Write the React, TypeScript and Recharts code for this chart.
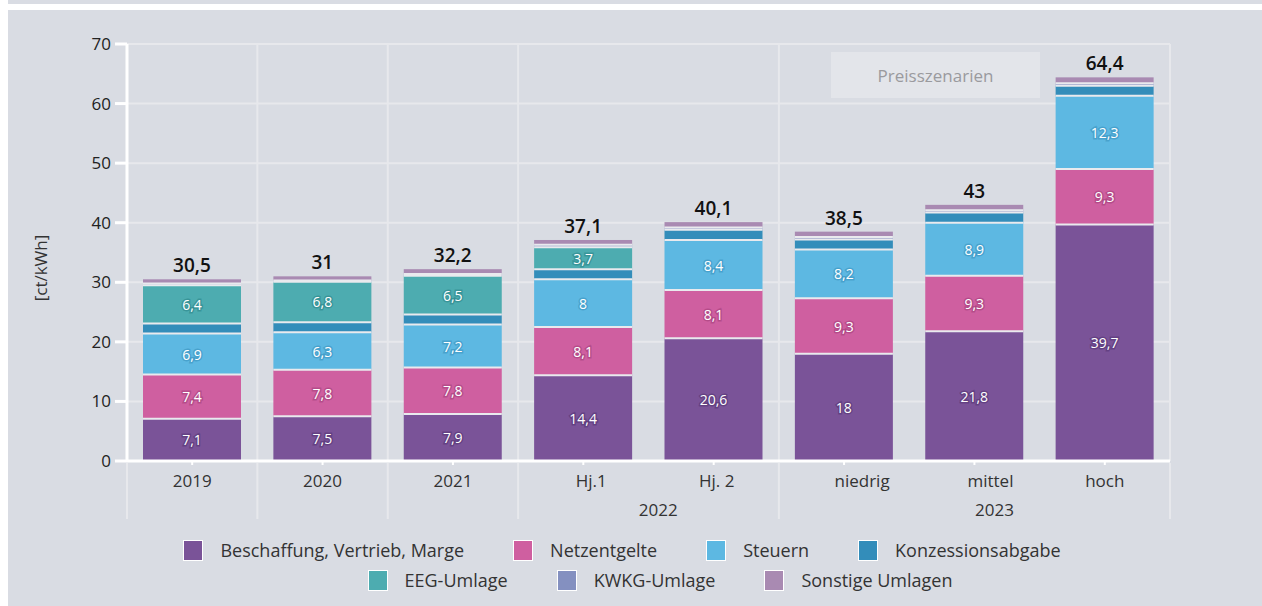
import React from 'react';
import { BarChart, Bar, XAxis, YAxis, CartesianGrid, LabelList, Legend, Label } from 'recharts';

const categories = ['2019', '2020', '2021', 'Hj.1', 'Hj. 2', 'niedrig', 'mittel', 'hoch'];
const beschaffung = [7.1, 7.5, 7.9, 14.4, 20.6, 18, 21.8, 39.7];
const netzentgelte = [7.4, 7.8, 7.8, 8.1, 8.1, 9.3, 9.3, 9.3];
const steuern = [6.9, 6.3, 7.2, 8, 8.4, 8.2, 8.9, 12.3];
const konzession = [1.7, 1.7, 1.7, 1.7, 1.7, 1.7, 1.7, 1.7];
const eegUmlage = [6.4, 6.8, 6.5, 3.7, 0, 0, 0, 0];
const kwkgUmlage = [0.3, 0.2, 0.3, 0.4, 0.4, 0.4, 0.4, 0.4];
const sonstige = [0.7, 0.7, 0.8, 0.8, 0.9, 0.9, 0.9, 1.0];
const totals = [30.5, 31, 32.2, 37.1, 40.1, 38.5, 43, 64.4];
const yTicks = [0, 10, 20, 30, 40, 50, 60, 70];
const yearGroups: Record<number, string> = { 3: '2022', 6: '2023' };

// series in stacking order (bottom -> top)
const series = [
  { key: 'beschaffung', name: 'Beschaffung, Vertrieb, Marge', color: '#7a5398', halo: '#563576', values: beschaffung, label: true },
  { key: 'netz', name: 'Netzentgelte', color: '#cf5fa0', halo: '#a5407c', values: netzentgelte, label: true },
  { key: 'steuern', name: 'Steuern', color: '#5db8e2', halo: '#3a93c0', values: steuern, label: true },
  { key: 'konz', name: 'Konzessionsabgabe', color: '#338dba', halo: '#226f96', values: konzession, label: false },
  { key: 'eeg', name: 'EEG-Umlage', color: '#4dacb0', halo: '#2c868a', values: eegUmlage, label: true },
  { key: 'kwkg', name: 'KWKG-Umlage', color: '#8490c0', halo: '#5d6a9d', values: kwkgUmlage, label: false },
  { key: 'sonstige', name: 'Sonstige Umlagen', color: '#a98ab2', halo: '#7d5f88', values: sonstige, label: false },
];

const data = categories.map((name, i) => {
  const row: Record<string, any> = { name, total: totals[i] };
  series.forEach(s => { row[s.key] = s.values[i]; });
  return row;
});

const W = 1254;
const H = 606;
const MARGIN = { top: 44, right: 92, left: 59, bottom: 85 };
const Y_W = 60;
const PLOT_W = W - MARGIN.left - Y_W - MARGIN.right;
const BAND = PLOT_W / categories.length;
const GRID = '#e7e8ec';
const FONT = '"Open Sans", "Noto Sans", sans-serif';
const LABEL_SHIFT: Record<number, number> = { 3: 8, 4: 3, 5: 18, 6: 16 };
const fmt = (v: number) => String(v).replace('.', ',');

const Segment = (props: any) => {
  const { x, y, width, height, fill } = props;
  if (!height || height <= 0) return null;
  return (
    <g>
      <rect x={x} y={y} width={width} height={height} fill={fill} />
      <line x1={x} x2={x + width} y1={y + height} y2={y + height} stroke="#e9eaee" strokeWidth={2} />
    </g>
  );
};

const makeSegLabel = (halo: string) => (props: any) => {
  const vb = props.viewBox || props;
  const v = Number(props.value);
  if (!v) return null;
  return (
    <text
      x={vb.x + vb.width / 2}
      y={vb.y + vb.height / 2}
      textAnchor="middle"
      dominantBaseline="central"
      fill="#fff"
      stroke={halo}
      strokeWidth={3}
      strokeOpacity={0.6}
      paintOrder="stroke"
      fontSize={14}
      fontWeight={500}
      fontFamily={FONT}
    >
      {fmt(v)}
    </text>
  );
};

const TotalLabel = (props: any) => {
  const vb = props.viewBox || props;
  return (
    <text x={vb.x + vb.width / 2} y={vb.y - 7} textAnchor="middle" fill="#111" fontSize={19} fontWeight={600} fontFamily={FONT}>
      {fmt(Number(props.value))}
    </text>
  );
};

const XTick = (props: any) => {
  const { x, y, payload } = props;
  const i = payload.index ?? props.index;
  const axisY = y - 14;
  const lines: number[] = [];
  if ([0, 1, 2, 3, 5].includes(i)) lines.push(x - BAND / 2);
  if (i === categories.length - 1) lines.push(x + BAND / 2);
  return (
    <g>
      {lines.map(lx => (
        <line key={lx} x1={lx} x2={lx} y1={axisY + 2} y2={axisY + 58} stroke={GRID} strokeWidth={2} />
      ))}
      <text x={x + (LABEL_SHIFT[i] || 0)} y={y} dy={12} textAnchor="middle" fill="#333" fontSize={17} fontFamily={FONT}>
        {payload.value}
      </text>
      {yearGroups[i] && (
        <text x={i === 3 ? x + 75 : x + 20} y={y + 29} dy={12} textAnchor="middle" fill="#333" fontSize={17} fontFamily={FONT}>
          {yearGroups[i]}
        </text>
      )}
    </g>
  );
};

const YTitle = () => (
  <text x={32} y={268} transform="rotate(-90 32 268)" textAnchor="middle" dominantBaseline="central" fill="#333" fontSize={17} fontFamily={FONT}>
    [ct/kWh]
  </text>
);

const LegendContent = () => {
  const rows = [series.slice(0, 4), series.slice(4)];
  return (
    <div style={{ fontFamily: FONT, fontSize: 18, color: '#333' }}>
      {rows.map((row, r) => (
        <div
          key={r}
          style={{
            display: 'flex',
            justifyContent: 'center',
            alignItems: 'center',
            height: 30,
            gap: 49,
            paddingLeft: r === 1 ? 50 : 0,
            paddingRight: r === 0 ? 26 : 0,
          }}
        >
          {row.map(s => (
            <div key={s.key} style={{ display: 'flex', alignItems: 'center' }}>
              <span style={{ width: 20, height: 21, background: s.color, border: '1px solid #fff', boxSizing: 'border-box', marginRight: 17 }} />
              <span>{s.name}</span>
            </div>
          ))}
        </div>
      ))}
    </div>
  );
};

export default function App() {
  return (
    <div style={{ position: 'fixed', top: 0, left: 8, width: W, height: H, background: '#d9dce3', fontFamily: FONT }}>
      <div style={{ position: 'absolute', top: 4, left: 0, width: W, height: 6, background: '#fff' }} />
      <BarChart width={W} height={H} data={data} margin={MARGIN} barSize={98} style={{ fontFamily: FONT }}>
        <CartesianGrid
          stroke={GRID}
          strokeWidth={2}
          verticalCoordinatesGenerator={({ offset }: any) => [0, 1, 2, 3, 5, 8].map(k => offset.left + (offset.width * k) / 8)}
        />
        <XAxis
          dataKey="name"
          interval={0}
          height={60}
          axisLine={{ stroke: '#fff', strokeWidth: 3 }}
          tickLine={{ stroke: '#fff', strokeWidth: 2 }}
          tickSize={4}
          tickMargin={10}
          tick={<XTick />}
        />
        <YAxis
          width={Y_W}
          domain={[0, 70]}
          ticks={yTicks}
          interval={0}
          axisLine={{ stroke: '#fff', strokeWidth: 3 }}
          tickLine={{ stroke: '#fff', strokeWidth: 3 }}
          tickSize={12}
          tickMargin={4}
          tick={{ fill: '#222', fontSize: 17 }}
          label={<Label content={<YTitle />} />}
        />
        <Legend verticalAlign="middle" align="center" layout="horizontal" content={<LegendContent />} wrapperStyle={{ top: 535, left: 0, width: W }} />
        {series.map((s, idx) => (
          <Bar key={s.key} dataKey={s.key} name={s.name} stackId="a" fill={s.color} shape={<Segment />} isAnimationActive={false}>
            {s.label && <LabelList dataKey={s.key} content={makeSegLabel(s.halo)} />}
            {idx === series.length - 1 && <LabelList dataKey="total" content={TotalLabel} />}
          </Bar>
        ))}
      </BarChart>
      <div
        style={{
          position: 'absolute',
          left: 823,
          top: 52,
          width: 209,
          height: 46,
          background: '#e3e5ea',
          color: '#9a9a9e',
          fontSize: 17,
          display: 'flex',
          alignItems: 'center',
          justifyContent: 'center',
        }}
      >
        Preisszenarien
      </div>
    </div>
  );
}
